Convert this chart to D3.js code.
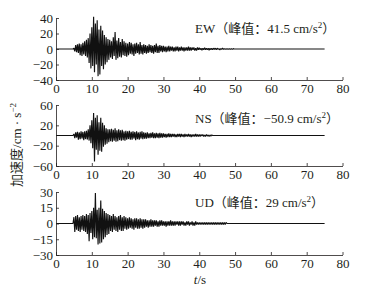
<!DOCTYPE html>
<html lang="zh">
<head>
<meta charset="UTF-8">
<title>加速度时程</title>
<script src="https://d3js.org/d3.v7.min.js"></script>
<style>
  body { margin: 0; background: #fff; }
  text { font-family: "Liberation Serif", "Times New Roman", serif; fill: #231f20; }
  .cjk { font-family: "Liberation Serif", "Noto Sans CJK SC", serif; }
</style>
</head>
<body>
<div id="chart"></div>
<script>
// time axis
var xTicks = [0, 10, 20, 30, 40, 50, 60, 70, 80];
var t0 = 5, dt = 0.25, tEnd = 75;

// EW record, sampled every 0.25 s from t = 5 s (cm/s^2)
var ewVals = [
  1, -3, 5, -4, 6, -5, 7, -8, 6, -9, 8, -7, 10, -9, 12, -11, 14, -18, 20, -25,
  28, -22, 41.5, -30, 33, -20, 37, -35, 25, -33, 30, -22, 24, -26, 18, -20, 15, -17, 13, -14,
  12, -11, 10, -13, 15, -9, 22, -14, 11, -12, 14, -10, 9, -11, 13, -8, 10, -9, 8, -10,
  7, -8, 9, -6, 8, -7, 6, -9, 7, -6, 8, -5, 6, -7, 9, -6, 5, -7, 6, -5,
  5, -6, 4, -5, 6, -4, 5, -5, 4, -6, 5, -4, 7, -5, 4, -5, 5, -3, 4, -4,
  4, -3, 3, -4, 3, -3, 4, -3, 3, -2, 3, -3, 2, -3, 3, -2, 3, -3, 2, -2,
  3, -2, 2, -3, 2, -2, 2, -2, 3, -2, 2, -2, 2, -1, 2, -2, 1, -2, 2, -1,
  1.5, -1, 1, -1.5, 1, -1, 1.5, -1, 1, -1, 1, -1.5, 1, -1, 1, -1, 1, -0.5, 1, -1,
  1, -0.5, 0.5, -1, 0.5, -0.5, 1, -0.5, 0.5, -0.5, 0.5, -0.5, 0.5, -0.5, 0.5, -0.5, 0.5, -0.5, 0.5, 0
];

// NS record
var nsVals = [
  3, -5, 6, -4, 7, -8, 6, -7, 8, -6, 7, -9, 8, -7, 9, -8, 12, -10, 20, -15,
  30, -25, 44, -50.9, 35, -28, 40, -38, 26, -30, 35, -32, 25, -22, 20, -18, 14, -16, 12, -13,
  12, -11, 13, -12, 11, -10, 14, -12, 10, -11, 12, -9, 10, -10, 11, -9, 8, -10, 9, -8,
  8, -7, 9, -8, 7, -8, 8, -6, 7, -9, 8, -7, 6, -8, 7, -6, 8, -7, 6, -6,
  5, -6, 6, -5, 4, -5, 5, -4, 6, -5, 4, -5, 5, -4, 4, -5, 5, -4, 4, -4,
  4, -3, 3, -4, 3, -3, 4, -3, 3, -3, 3, -2, 3, -3, 2, -3, 3, -2, 3, -3,
  3, -2, 2, -3, 3, -2, 2, -2, 3, -2, 2, -3, 2, -2, 2, -2, 3, -2, 2, -2,
  2, -2, 2, -1, 2, -2, 1, -2, 2, -1, 1, -2, 1, -1, 1, 0
];

// UD record
var udVals = [
  6, -8, 7, -6, 8, -7, 6, -8, 7, -6, 8, -7, 7, -8, 9, -10, 8, -17, 10, -9,
  12, -15, 15, -13, 29, -14, 13, -20, 15, -19, 22, -18, 14, -15, 12, -13, 10, -11, 9, -10,
  8, -7, 7, -8, 9, -6, 7, -7, 6, -8, 7, -6, 8, -7, 6, -7, 7, -5, 6, -6,
  5, -5, 6, -4, 5, -5, 4, -6, 5, -4, 5, -5, 4, -5, 5, -4, 4, -5, 4, -4,
  4, -3, 3, -4, 3, -3, 4, -3, 3, -3, 3, -2, 3, -3, 2, -3, 3, -2, 3, -2,
  2, -2, 2, -3, 2, -2, 2, -2, 3, -2, 2, -2, 2, -2, 2, -1, 2, -2, 2, -2,
  2, -1, 2, -2, 1, -2, 2, -1, 2, -2, 1, -1, 2, -2, 1, -2, 2, -1, 1, -1,
  1, -1, 1, -1, 1, -1, 1, -1, 1, -1, 1, -1, 1, -1, 1, -1,
  1, -1, 1, -1, 1, -1, 1, -1, 1, -1, 1, -1, 1, -1, 1, 0
];

var names = ["EW", "NS", "UD"];
var peaks = ["41.5", "\u221250.9", "29"];
var yDomains = [[-40, 40], [-60, 60], [-30, 30]];
var yTicks = [[-40, -20, 0, 20, 40], [-60, -20, 20, 60], [-30, -15, 0, 15, 30]];
var series = [ewVals, nsVals, udVals];

var width = 372, height = 289;
var svg = d3.select("#chart").append("svg")
  .attr("width", width)
  .attr("height", height);

var x = d3.scaleLinear().domain([0, 80]).range([56, 342.5]);

// pixel extent of each panel [bottom, top]
var panelRanges = [[80, 18], [166, 105], [255, 192]];

function toPoints(vals) {
  var pts = [[0, 0], [t0 - dt, 0]];
  vals.forEach(function(v, i) { pts.push([t0 + i * dt, v]); });
  pts.push([tEnd, 0]);
  return pts;
}

series.forEach(function(vals, k) {
  var y = d3.scaleLinear().domain(yDomains[k]).range(panelRanges[k]);
  var g = svg.append("g");

  var line = d3.line()
    .x(function(d) { return x(d[0]); })
    .y(function(d) { return y(d[1]); });

  g.append("path")
    .datum(toPoints(vals))
    .attr("fill", "none")
    .attr("stroke", "#111")
    .attr("stroke-width", 1.15)
    .attr("stroke-linejoin", "bevel")
    .attr("d", line);

  var yAxis = d3.axisLeft(y)
    .tickValues(yTicks[k])
    .tickFormat(function(d) { return d < 0 ? "\u2212" + Math.abs(d) : d; })
    .tickSizeInner(-3)
    .tickSizeOuter(0)
    .tickPadding(3);

  var xAxis = d3.axisBottom(x)
    .tickValues(xTicks)
    .tickSizeInner(-3)
    .tickSizeOuter(0)
    .tickPadding(4);

  var ga = g.append("g")
    .attr("transform", "translate(" + x(0) + ",0)")
    .call(yAxis);
  var gb = g.append("g")
    .attr("transform", "translate(0," + panelRanges[k][0] + ")")
    .call(xAxis);

  [ga, gb].forEach(function(a) {
    a.selectAll("text")
      .style("font-family", "'Liberation Serif', serif")
      .style("font-size", "13px")
      .attr("fill", "#231f20");
    a.selectAll("path, line").attr("stroke", "#231f20").attr("stroke-width", 0.8);
  });

  var label = g.append("text")
    .attr("class", "cjk")
    .attr("x", 195)
    .attr("y", panelRanges[k][1] + [15, 18, 15][k])
    .style("font-size", "13px");
  label.append("tspan").text(names[k] + "\uff08\u5cf0\u503c\uff1a" + peaks[k] + " cm/s");
  label.append("tspan").attr("dy", -5).style("font-size", "9px").text("2");
  label.append("tspan").attr("dy", 5).text("\uff09");
});

// y-axis title
var yt = svg.append("text")
  .attr("class", "cjk")
  .attr("transform", "translate(21,145) rotate(-90)")
  .attr("text-anchor", "middle")
  .style("font-size", "13px");
yt.append("tspan").text("\u52a0\u901f\u5ea6/cm \u00b7 s");
yt.append("tspan").attr("dy", -5).style("font-size", "9px").text("\u22122");

// x-axis title
var xt = svg.append("text")
  .attr("x", 200)
  .attr("y", 284)
  .attr("text-anchor", "middle")
  .style("font-size", "13px");
xt.append("tspan").style("font-style", "italic").text("t");
xt.append("tspan").text("/s");
</script>
</body>
</html>
